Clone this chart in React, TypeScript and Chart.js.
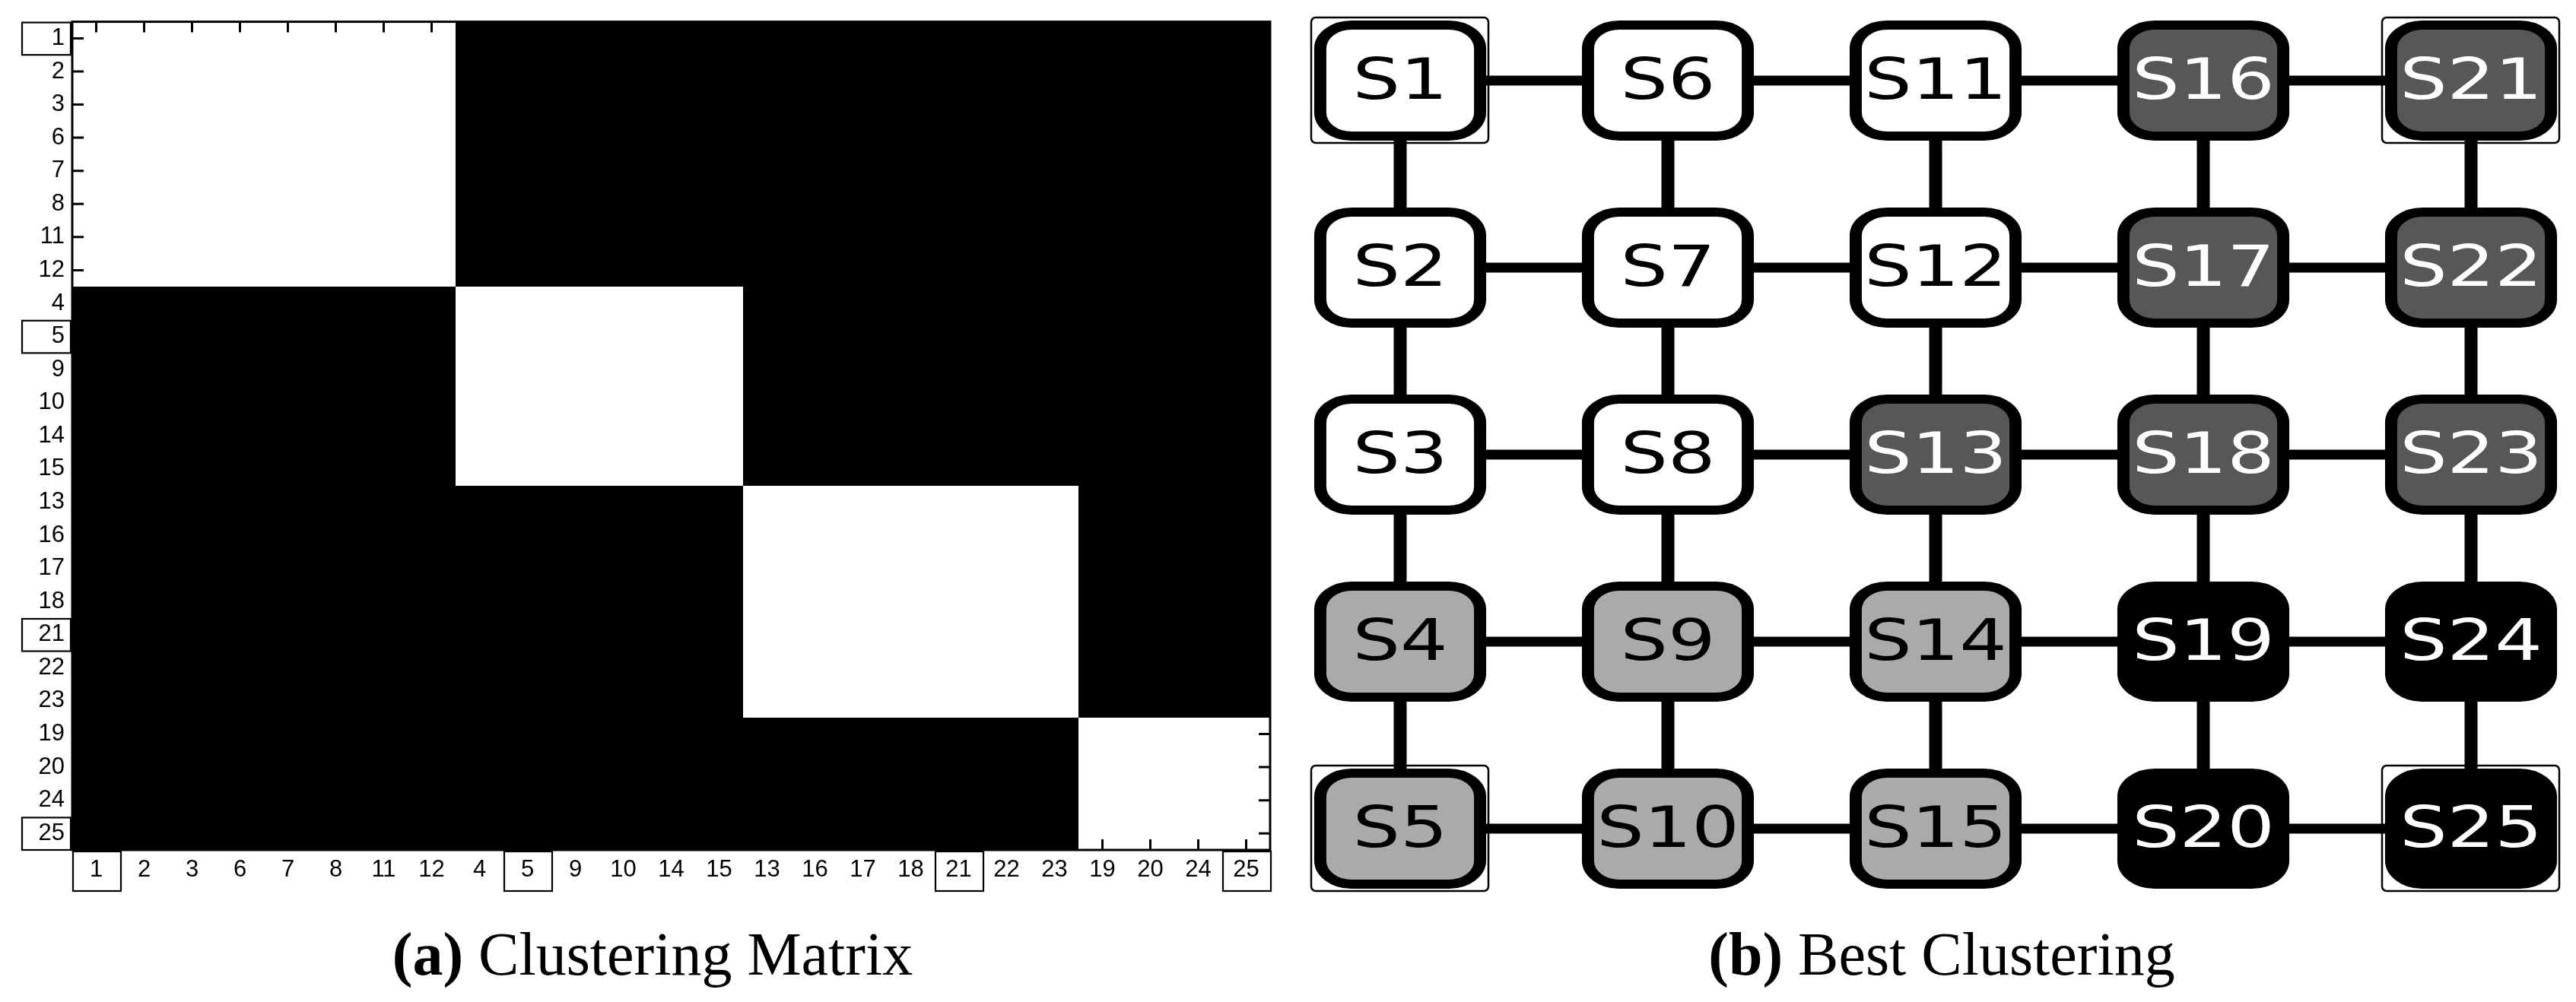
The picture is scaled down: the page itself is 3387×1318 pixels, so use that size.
import React, { useEffect, useRef } from 'react';
import { Chart, registerables } from 'chart.js';

Chart.register(...registerables);

// ---------- data: clustering matrix (a) ----------
const ORDER_LABELS = ['1', '2', '3', '6', '7', '8', '11', '12', '4', '5', '9', '10', '14', '15', '13', '16', '17', '18', '21', '22', '23', '19', '20', '24', '25'];
const ORDER_CLUSTER = [0, 0, 0, 0, 0, 0, 0, 0, 1, 1, 1, 1, 1, 1, 2, 2, 2, 2, 2, 2, 2, 3, 3, 3, 3];
const REPRESENTATIVES = ['1', '5', '21', '25'];

// ---------- data: best clustering grid (b) ----------
const NODE_NAMES = ['S1', 'S2', 'S3', 'S4', 'S5', 'S6', 'S7', 'S8', 'S9', 'S10', 'S11', 'S12', 'S13', 'S14', 'S15', 'S16', 'S17', 'S18', 'S19', 'S20', 'S21', 'S22', 'S23', 'S24', 'S25'];
const NODE_COLUMN = [0, 0, 0, 0, 0, 1, 1, 1, 1, 1, 2, 2, 2, 2, 2, 3, 3, 3, 3, 3, 4, 4, 4, 4, 4];
const NODE_ROW = [0, 1, 2, 3, 4, 0, 1, 2, 3, 4, 0, 1, 2, 3, 4, 0, 1, 2, 3, 4, 0, 1, 2, 3, 4];
const NODE_CLUSTER = [0, 0, 0, 1, 1, 0, 0, 0, 1, 1, 0, 0, 2, 1, 1, 2, 2, 2, 3, 3, 2, 2, 2, 3, 3];
const NODE_HIGHLIGHT = ['S1', 'S5', 'S21', 'S25'];
const GRID_COLUMNS = [0, 1, 2, 3, 4];
const GRID_ROWS = [0, 1, 2, 3, 4];
const CLUSTER_FILL = ['#ffffff', '#aaaaaa', '#575757', '#000000'];
const CLUSTER_TEXT = ['#000000', '#000000', '#ffffff', '#ffffff'];

// ---------- layout constants ----------
const C1_W = 1700;
const C1_H = 1180;
const M_LEFT = 95;
const M_RIGHT = 1670;
const M_TOP = 27;
const M_BOTTOM = 1118;

const C2_LEFT = 1700;
const C2_W = 1687;
const C2_H = 1200;
const SX = 1.33;

const matrixCells = ORDER_LABELS.flatMap((rowLabel, r) =>
  ORDER_LABELS.map((colLabel, c) => ({ x: colLabel, y: rowLabel, v: ORDER_CLUSTER[r] === ORDER_CLUSTER[c] ? 1 : 0 }))
);

const matrixPlugin = {
  id: 'matrixCells',
  beforeDatasetsDraw(chart: any) {
    const { ctx, scales } = chart;
    const xs = scales.x;
    const ys = scales.y;
    const n = ORDER_LABELS.length;
    const cw = (xs.right - xs.left) / n;
    const ch = (ys.bottom - ys.top) / n;
    const meta = chart.getDatasetMeta(0);
    const data = chart.data.datasets[0].data as any[];
    ctx.save();
    meta.data.forEach((el: any, i: number) => {
      const l = Math.round(el.x - cw / 2);
      const r = Math.round(el.x + cw / 2);
      const t = Math.round(el.y - ch / 2);
      const b = Math.round(el.y + ch / 2);
      ctx.fillStyle = data[i].v ? '#ffffff' : '#000000';
      ctx.fillRect(l, t, r - l, b - t);
    });
    ctx.restore();
  },
  afterDraw(chart: any) {
    const { ctx, chartArea: a, scales } = chart;
    const xs = scales.x;
    const ys = scales.y;
    const n = ORDER_LABELS.length;
    const cw = (xs.right - xs.left) / n;
    const ch = (ys.bottom - ys.top) / n;
    ctx.save();
    ctx.strokeStyle = '#000';
    ctx.lineCap = 'butt';
    ctx.lineWidth = 3;
    ctx.beginPath();
    for (let i = 0; i < n; i++) {
      const px = xs.getPixelForTick(i);
      ctx.moveTo(px, a.top);
      ctx.lineTo(px, a.top + 14);
      ctx.moveTo(px, a.bottom);
      ctx.lineTo(px, a.bottom - 14);
      const py = ys.getPixelForTick(i);
      ctx.moveTo(a.left, py);
      ctx.lineTo(a.left + 15, py);
      ctx.moveTo(a.right, py);
      ctx.lineTo(a.right - 15, py);
    }
    ctx.stroke();
    ctx.lineWidth = 3;
    ctx.strokeRect(a.left, a.top, a.right - a.left, a.bottom - a.top);
    // boxes around representative labels
    ctx.lineWidth = 2.2;
    REPRESENTATIVES.forEach((lab) => {
      const i = ORDER_LABELS.indexOf(lab);
      const py = ys.getPixelForTick(i);
      ctx.strokeRect(29, py - ch / 2 + 1, 64, ch - 1);
      const px = xs.getPixelForTick(i);
      ctx.strokeRect(px - cw / 2 + 1, a.bottom + 2, cw, 52);
    });
    ctx.restore();
  },
};

function roundedPath(ctx: CanvasRenderingContext2D, x: number, y: number, w: number, h: number, r: number) {
  ctx.beginPath();
  ctx.moveTo(x + r, y);
  ctx.lineTo(x + w - r, y);
  ctx.arcTo(x + w, y, x + w, y + r, r);
  ctx.lineTo(x + w, y + h - r);
  ctx.arcTo(x + w, y + h, x + w - r, y + h, r);
  ctx.lineTo(x + r, y + h);
  ctx.arcTo(x, y + h, x, y + h - r, r);
  ctx.lineTo(x, y + r);
  ctx.arcTo(x, y, x + r, y, r);
  ctx.closePath();
}

const NODE_DATASET_INDEX = GRID_ROWS.length + GRID_COLUMNS.length;

const nodePlugin = {
  id: 'gridNodes',
  afterDatasetsDraw(chart: any) {
    const { ctx } = chart;
    const meta = chart.getDatasetMeta(NODE_DATASET_INDEX);
    meta.data.forEach((el: any, i: number) => {
      const cx = el.x;
      const cy = el.y;
      const cl = NODE_CLUSTER[i];
      ctx.save();
      ctx.translate(cx, cy);
      ctx.scale(SX, 1);
      const w = 158;
      const h = 146;
      roundedPath(ctx, -w / 2, -h / 2, w, h, 31);
      ctx.fillStyle = CLUSTER_FILL[cl];
      ctx.fill();
      ctx.lineWidth = 12;
      ctx.strokeStyle = '#000';
      ctx.stroke();
      ctx.fillStyle = CLUSTER_TEXT[cl];
      ctx.font = '74px "DejaVu Sans"';
      ctx.textAlign = 'center';
      ctx.textBaseline = 'alphabetic';
      ctx.fillText(NODE_NAMES[i], 0, 24);
      ctx.restore();
      if (NODE_HIGHLIGHT.includes(NODE_NAMES[i])) {
        ctx.save();
        ctx.lineWidth = 2.5;
        ctx.strokeStyle = '#000';
        roundedPath(ctx, cx - 117, cy - 83, 233, 165, 6);
        ctx.stroke();
        ctx.restore();
      }
    });
  },
};

export default function App() {
  const ref1 = useRef<HTMLCanvasElement>(null);
  const ref2 = useRef<HTMLCanvasElement>(null);

  useEffect(() => {
    document.body.style.margin = '0';
    const tickFont = { family: '"Liberation Sans", Arial, sans-serif', size: 31 };
    const c1 = new Chart(ref1.current as HTMLCanvasElement, {
      type: 'scatter',
      data: {
        datasets: [
          {
            data: matrixCells as any,
            pointRadius: 0,
            pointHoverRadius: 0,
          },
        ],
      },
      options: {
        animation: false,
        responsive: false,
        devicePixelRatio: 1,
        events: [],
        layout: { padding: { left: 0, top: M_TOP, right: C1_W - M_RIGHT, bottom: 0 } },
        plugins: { legend: { display: false }, tooltip: { enabled: false } },
        scales: {
          x: {
            type: 'category',
            labels: ORDER_LABELS,
            offset: true,
            position: 'bottom',
            grid: { display: false, drawTicks: false },
            border: { display: false },
            ticks: { color: '#000', font: tickFont, padding: 8, autoSkip: false, maxRotation: 0, minRotation: 0 },
            afterFit: (s: any) => { s.height = C1_H - M_BOTTOM; },
          } as any,
          y: {
            type: 'category',
            labels: ORDER_LABELS,
            offset: true,
            position: 'left',
            grid: { display: false, drawTicks: false },
            border: { display: false },
            ticks: { color: '#000', font: tickFont, padding: 10, autoSkip: false },
            afterFit: (s: any) => { s.width = M_LEFT; },
          } as any,
        },
      },
      plugins: [matrixPlugin],
    });

    const rowLines = GRID_ROWS.map((r) => ({
      data: GRID_COLUMNS.map((c) => ({ x: c, y: r })),
      showLine: true,
      borderColor: '#000',
      borderWidth: 13,
      borderCapStyle: 'butt' as const,
      pointRadius: 0,
      pointHoverRadius: 0,
      clip: false as any,
    }));
    const colLines = GRID_COLUMNS.map((c) => ({
      data: GRID_ROWS.map((r) => ({ x: c, y: r })),
      showLine: true,
      borderColor: '#000',
      borderWidth: 17,
      borderCapStyle: 'butt' as const,
      pointRadius: 0,
      pointHoverRadius: 0,
      clip: false as any,
    }));
    const nodes = {
      data: NODE_COLUMN.map((c, i) => ({ x: c, y: NODE_ROW[i] })),
      pointRadius: 0,
      pointHoverRadius: 0,
      showLine: false,
      clip: false as any,
    };

    const c2 = new Chart(ref2.current as HTMLCanvasElement, {
      type: 'scatter',
      data: { datasets: [...rowLines, ...colLines, nodes] as any },
      options: {
        animation: false,
        responsive: false,
        devicePixelRatio: 1,
        events: [],
        layout: { padding: { left: 1841 - C2_LEFT, right: C2_W - (3249 - C2_LEFT), top: 106, bottom: C2_H - 1090 } },
        plugins: { legend: { display: false }, tooltip: { enabled: false } },
        scales: {
          x: { type: 'linear', min: 0, max: 4, display: false },
          y: { type: 'linear', min: 0, max: 4, reverse: true, display: false },
        },
      },
      plugins: [nodePlugin],
    });

    return () => {
      c1.destroy();
      c2.destroy();
    };
  }, []);

  const captionStyle: React.CSSProperties = {
    position: 'absolute',
    top: 1215,
    width: 1200,
    textAlign: 'center',
    fontFamily: '"Liberation Serif", "Times New Roman", serif',
    fontSize: 80,
    lineHeight: '80px',
    color: '#000',
    whiteSpace: 'nowrap',
  };

  return (
    <div style={{ position: 'relative', width: 3387, height: 1318, background: '#fff', overflow: 'hidden' }}>
      <canvas ref={ref1} width={C1_W} height={C1_H} style={{ position: 'absolute', left: 0, top: 0, width: C1_W, height: C1_H }} />
      <canvas ref={ref2} width={C2_W} height={C2_H} style={{ position: 'absolute', left: C2_LEFT, top: 0, width: C2_W, height: C2_H }} />
      <div style={{ ...captionStyle, left: 858 - 600 }}>
        <b>(a)</b> Clustering Matrix
      </div>
      <div style={{ ...captionStyle, left: 2553 - 600 }}>
        <b>(b)</b> Best Clustering
      </div>
    </div>
  );
}
